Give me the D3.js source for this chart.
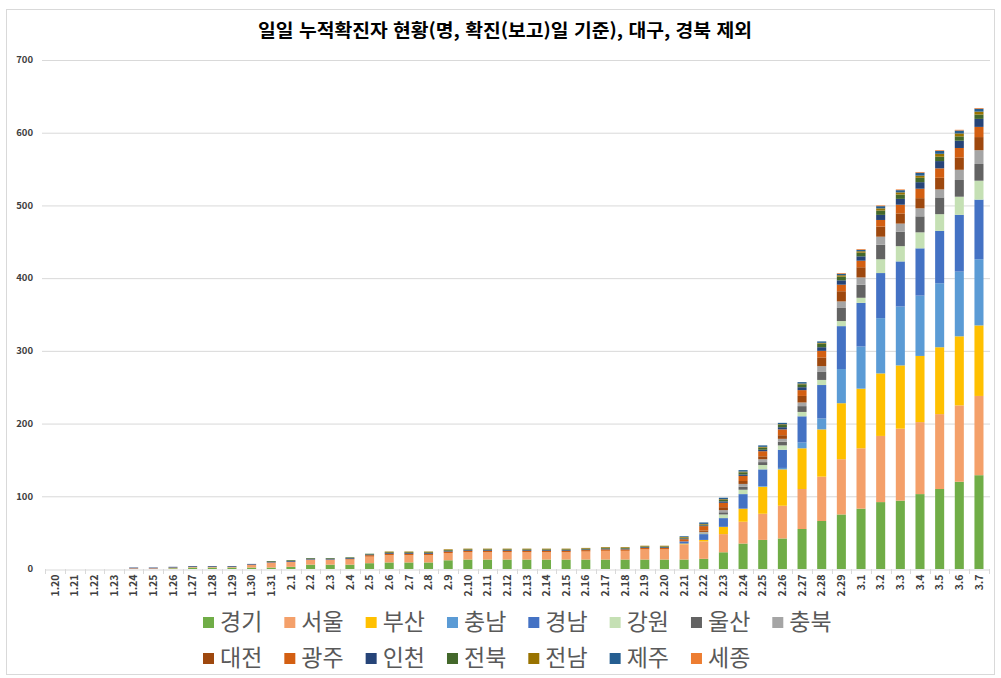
<!DOCTYPE html>
<html lang="ko">
<head>
<meta charset="utf-8">
<script src="https://cdn.jsdelivr.net/npm/d3@7/dist/d3.min.js"></script>
<style>
  body { margin: 0; background: #fff; }
  svg { display: block; font-family: "Noto Sans CJK KR", "Noto Sans", sans-serif; }
</style>
</head>
<body>
<div id="chart"></div>
<script>
const dates = ["1.20","1.21","1.22","1.23","1.24","1.25","1.26","1.27","1.28","1.29","1.30","1.31",
  "2.1","2.2","2.3","2.4","2.5","2.6","2.7","2.8","2.9","2.10","2.11","2.12","2.13","2.14","2.15",
  "2.16","2.17","2.18","2.19","2.20","2.21","2.22","2.23","2.24","2.25","2.26","2.27","2.28","2.29",
  "3.1","3.2","3.3","3.4","3.5","3.6","3.7"];

const regions = ["경기","서울","부산","충남","경남","강원","울산","충북","대전","광주","인천","전북","전남","제주","세종"];
const colors  = ["#70ad47","#f4a06a","#ffc000","#5b9bd5","#4472c4","#c5e0b4","#636363","#a5a5a5",
                 "#9e480e","#d35f12","#264478","#43682b","#997300","#255e91","#ed7d31"];

const gyeonggi = [0,0,0,0, 0,0,1,2, 2,2,2,2, 3,6,6,6, 8,9,9,9, 12,13,13,13, 13,13,13,13, 13,13,13,13, 13,14,23,35, 40,42,55,66, 75,83,92,94, 103,110,120,129];
const seoul    = [0,0,0,0, 1,1,1,1, 1,1,4,7, 7,7,7,7, 9,10,10,10, 10,10,10,10, 10,10,10,11, 12,12,14,14, 21,24,25,30, 36,45,55,61, 76,83,91,99, 99,103,105,109];
const busan    = [0,0,0,0, 0,0,0,0, 0,0,0,0, 0,0,0,0, 0,0,0,0, 0,0,0,0, 0,0,0,0, 0,0,0,0, 1,2,10,18, 37,50,56,65, 77,82,86,87, 91,92,95,97];
const chungnam = [0,0,0,0, 0,0,0,0, 0,0,0,0, 0,0,0,0, 0,0,0,0, 0,0,0,0, 0,0,0,0, 0,0,0,0, 0,0,0,0, 1,2,8,15, 47,58,76,81, 83,88,89,91];
const gyeongnam= [0,0,0,0, 0,0,0,0, 0,0,0,0, 0,0,0,0, 0,0,0,0, 0,0,0,0, 0,0,0,0, 0,0,0,0, 3,8,12,20, 23,25,36,46, 59,60,62,62, 65,72,78,82];
const gangwon  = [0,0,0,0, 0,0,0,0, 0,0,0,0, 0,0,0,0, 0,0,0,0, 0,0,0,0, 0,0,0,0, 0,0,0,0, 0,1,5,6, 6,6,6,7, 7,7,19,21, 22,23,25,26];
const ulsan    = [0,0,0,0, 0,0,0,0, 0,0,0,0, 0,0,0,0, 0,0,0,0, 0,0,0,0, 0,0,0,0, 0,0,0,0, 0,1,3,4, 4,5,8,11, 18,18,20,20, 22,23,23,23];
const chungbuk = [0,0,0,0, 0,0,0,0, 0,0,0,0, 0,0,0,0, 0,0,0,0, 0,0,0,0, 0,0,0,0, 0,0,0,0, 0,1,3,4, 4,4,5,8, 9,10,11,11, 11,11,14,19];
const daejeon  = [0,0,0,0, 0,0,0,0, 0,0,0,0, 0,0,0,0, 0,0,0,0, 0,0,0,0, 0,0,0,0, 0,0,0,0, 0,2,4,4, 4,5,9,12, 14,14,14,14, 14,16,17,18];
const gwangju  = [0,0,0,0, 0,0,0,0, 0,0,0,0, 0,0,0,1, 2,2,2,2, 2,2,2,2, 2,2,2,2, 2,2,2,2, 3,6,6,7, 7,8,8,9, 9,9,9,12, 13,13,13,14];
const incheon  = [0,0,0,0, 1,1,1,1, 1,1,1,1, 1,1,1,1, 1,1,1,1, 1,1,1,1, 1,1,1,1, 1,1,1,1, 1,1,2,2, 2,3,4,5, 6,6,7,8, 9,10,10,11];
const jeonbuk  = [0,0,0,0, 0,0,0,0, 0,0,0,1, 1,1,1,1, 1,1,1,1, 1,1,1,1, 1,1,1,1, 1,1,1,1, 1,1,2,3, 3,3,4,5, 5,5,6,6, 6,6,6,6];
const jeonnam  = [0,0,0,0, 0,0,0,0, 0,0,0,0, 0,0,0,0, 0,1,1,1, 1,1,1,1, 1,1,1,1, 1,1,1,1, 1,1,1,1, 1,1,1,1, 2,2,3,3, 3,4,4,4];
const jeju     = [0,0,0,0, 0,0,0,0, 0,0,0,0, 0,0,0,0, 0,0,0,0, 0,0,0,0, 0,0,0,0, 0,0,0,0, 1,2,2,2, 2,2,2,2, 2,2,3,3, 4,4,4,4];
const sejong   = [0,0,0,0, 0,0,0,0, 0,0,0,0, 0,0,0,0, 0,0,0,0, 0,0,0,0, 0,0,0,0, 0,0,0,0, 0,0,0,0, 0,0,0,0, 1,1,1,1, 1,1,1,1];

const yTicks = [0,100,200,300,400,500,600,700];

const regionValues = [gyeonggi, seoul, busan, chungnam, gyeongnam, gangwon, ulsan, chungbuk,
                      daejeon, gwangju, incheon, jeonbuk, jeonnam, jeju, sejong];

const table = dates.map((d, i) => {
  const row = { date: d };
  regions.forEach((r, k) => { row[r] = regionValues[k][i]; });
  return row;
});

const W = 1001, H = 678;
const svg = d3.select("#chart").append("svg")
    .attr("width", W)
    .attr("height", H);

// outer frame
svg.append("rect")
    .attr("x", 6.5).attr("y", 9.5)
    .attr("width", 988).attr("height", 665)
    .attr("fill", "#fff")
    .attr("stroke", "#d9d9d9");

const plot = { left: 45.2, right: 988.8, top: 60, bottom: 569 };

const x = d3.scaleBand()
    .domain(dates)
    .range([plot.left, plot.right])
    .paddingInner(0.54)
    .paddingOuter(0.27);

const y = d3.scaleLinear()
    .domain([0, 700])
    .range([plot.bottom, plot.top]);

// gridlines
svg.append("g")
  .selectAll("line")
  .data(yTicks.filter(t => t > 0))
  .join("line")
    .attr("x1", 42).attr("x2", 990)
    .attr("y1", d => y(d) + 0.5).attr("y2", d => y(d) + 0.5)
    .attr("stroke", "#d9d9d9");

// y labels
svg.append("g")
  .selectAll("text")
  .data(yTicks)
  .join("text")
    .attr("x", 33)
    .attr("y", d => y(d))
    .attr("dy", "0.35em")
    .attr("text-anchor", "end")
    .attr("font-size", 9.5)
    .attr("font-weight", 700)
    .attr("fill", "#404040")
    .text(d => d);

// stacked bars
const stack = d3.stack().keys(regions);
const layers = stack(table);

svg.append("g")
  .selectAll("g")
  .data(layers)
  .join("g")
    .attr("fill", (d, i) => colors[i])
  .selectAll("rect")
  .data(d => d)
  .join("rect")
    .attr("x", d => x(d.data.date))
    .attr("y", d => y(d[1]))
    .attr("width", x.bandwidth())
    .attr("height", d => y(d[0]) - y(d[1]));

// x axis
const xAxis = svg.append("g")
    .attr("transform", `translate(0,${plot.bottom + 0.5})`)
    .call(d3.axisBottom(x).tickSize(0).tickPadding(0));
xAxis.select(".domain").attr("stroke", "#d9d9d9");
xAxis.selectAll("text")
    .attr("font-family", "\"Noto Sans CJK KR\", sans-serif")
    .attr("font-size", 10.5)
    .attr("font-weight", 700)
    .attr("fill", "#404040")
    .attr("text-anchor", "end")
    .attr("transform", "rotate(-90)")
    .attr("x", -5)
    .attr("y", 0)
    .attr("dy", "0.35em");

// tick marks between categories
const step = x.step();
svg.append("g")
  .selectAll("line")
  .data(d3.range(dates.length + 1))
  .join("line")
    .attr("x1", i => Math.round(plot.left + i * step) + 0.5)
    .attr("x2", i => Math.round(plot.left + i * step) + 0.5)
    .attr("y1", plot.bottom)
    .attr("y2", plot.bottom + 5)
    .attr("stroke", "#d9d9d9");

// title
svg.append("text")
    .attr("x", 505)
    .attr("y", 37)
    .attr("text-anchor", "middle")
    .attr("font-size", 18)
    .attr("font-weight", 700)
    .attr("fill", "#000")
    .attr("textLength", 494)
    .attr("lengthAdjust", "spacingAndGlyphs")
    .text("일일 누적확진자 현황(명, 확진(보고)일 기준), 대구, 경북 제외");

// legend
const legendRows = [regions.slice(0, 8), regions.slice(8)];
const legendY = [622, 658];
legendRows.forEach((row, r) => {
  let cx = 203;
  row.forEach(name => {
    const k = regions.indexOf(name);
    svg.append("rect")
        .attr("x", cx).attr("y", legendY[r] - 5)
        .attr("width", 11).attr("height", 11)
        .attr("fill", colors[k]);
    const t = svg.append("text")
        .attr("x", cx + 17)
        .attr("y", legendY[r])
        .attr("dy", "0.36em")
        .attr("font-size", 23)
        .attr("fill", "#595959")
        .text(name);
    cx += 17 + t.node().getComputedTextLength() + 22;
  });
});
</script>
</body>
</html>
